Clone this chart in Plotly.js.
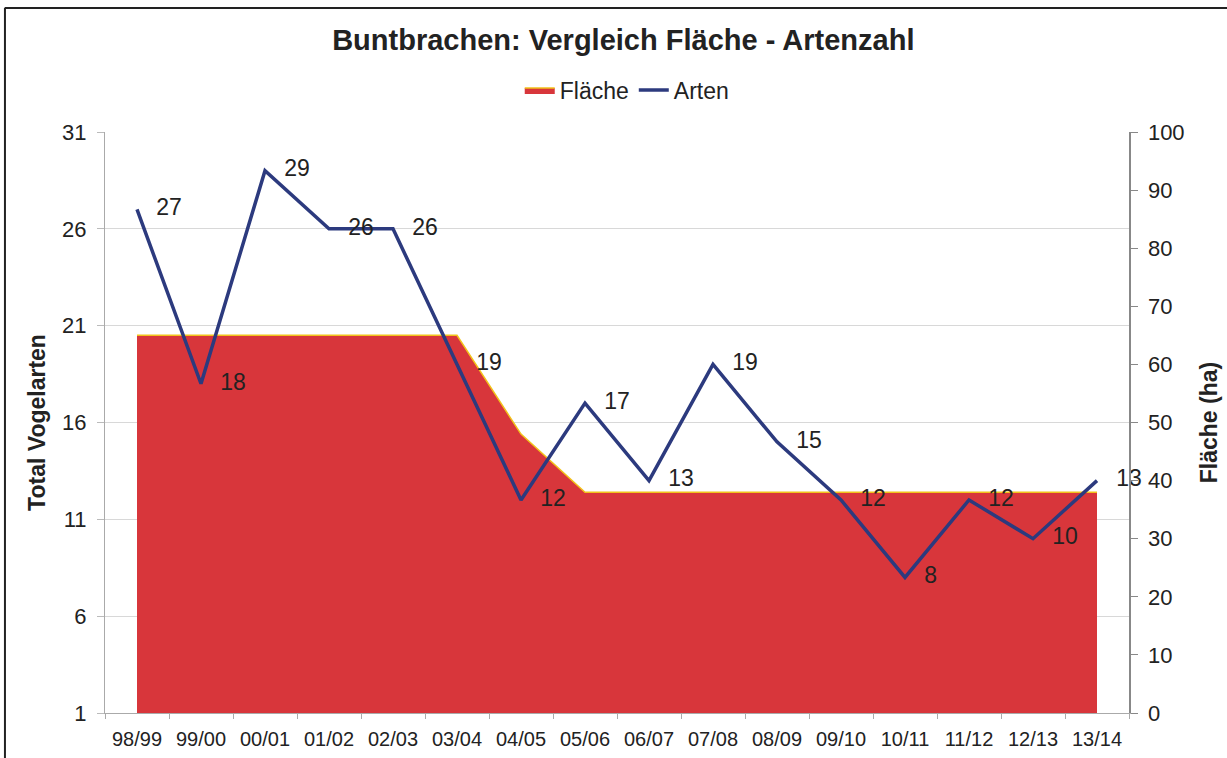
<!DOCTYPE html>
<html>
<head>
<meta charset="utf-8">
<script src="https://cdn.plot.ly/plotly-3.0.1.min.js"></script>
<style>html,body{margin:0;padding:0;background:#fff;}</style>
</head>
<body>
<div id="chart" style="width:1227px;height:758px;"></div>
<script>
const seasons = ["98/99","99/00","00/01","01/02","02/03","03/04","04/05","05/06","06/07","07/08","08/09","09/10","10/11","11/12","12/13","13/14"];
const arten = [27,18,29,26,26,19,12,17,13,19,15,12,8,12,10,13];
const flaeche = [65,65,65,65,65,65,48,38,38,38,38,38,38,38,38,38];

const F = 'Liberation Sans, Arial, sans-serif';

const traces = [
  {
    x: seasons, y: flaeche, yaxis: 'y', name: 'Fläche',
    type: 'scatter', mode: 'lines', fill: 'tozeroy',
    fillcolor: '#d8363b', line: {color: '#f2c21a', width: 1.5},
    hoverinfo: 'y'
  },
  {
    x: seasons, y: arten, yaxis: 'y2', name: 'Arten',
    type: 'scatter', mode: 'lines+text',
    line: {color: '#2c3a7e', width: 3.5},
    text: arten.map(v => '   ' + v), textposition: 'middle right',
    textfont: {family: F, size: 23, color: '#222'},
    cliponaxis: false
  }
];

const layout = {
  width: 1227, height: 758,
  margin: {l: 105, r: 98, t: 132, b: 45},
  paper_bgcolor: '#fff', plot_bgcolor: '#fff',
  font: {family: F, color: '#222'},
  title: {text: '<b>Buntbrachen: Vergleich Fläche - Artenzahl</b>', font: {family: F, size: 29, color: '#222'},
          x: 0.508, xref: 'container', xanchor: 'center', y: 0.947, yref: 'container', yanchor: 'middle'},
  showlegend: true,
  legend: {orientation: 'h', x: 0.51, xanchor: 'center', y: 1.072, yanchor: 'middle',
           font: {family: F, size: 23, color: '#222'}, traceorder: 'normal', itemwidth: 30},
  xaxis: {
    type: 'category', range: [-0.5, 15.5], tickson: 'boundaries',
    ticks: 'outside', ticklen: 5, tickcolor: '#aaa', ticklabelstandoff: 8,
    showline: true, linecolor: '#aaa', linewidth: 1, showgrid: false,
    tickfont: {family: F, size: 20, color: '#222'}
  },
  yaxis2: {
    range: [1, 31], tick0: 1, dtick: 5, overlaying: 'y', side: 'left',
    ticks: 'outside', ticklen: 7, tickcolor: '#bbb', ticklabelstandoff: 6,
    showline: true, linecolor: '#aaa', showgrid: true, gridcolor: '#d8d8d8', zeroline: false,
    tickfont: {family: F, size: 22, color: '#222'},
    title: {text: '<b>Total Vogelarten</b>', font: {family: F, size: 23, color: '#222'}, standoff: 10}
  },
  yaxis: {
    range: [0, 100], dtick: 10, side: 'right',
    ticks: 'outside', ticklen: 7, tickcolor: '#888', ticklabelstandoff: 6,
    showline: true, linecolor: '#888', linewidth: 1.5, showgrid: false, zeroline: false,
    tickfont: {family: F, size: 22, color: '#222'},
    title: {text: '<b>Fläche (ha)</b>', font: {family: F, size: 23, color: '#222'}, standoff: 17}
  },
  shapes: [
    {type: 'line', xref: 'paper', yref: 'paper', x0: -0.098, x1: 1.1, y0: 1.2134, y1: 1.2134, line: {color: '#222', width: 2}},
    {type: 'line', xref: 'paper', yref: 'paper', x0: -0.0977, x1: -0.0977, y0: 1.2134, y1: -0.08, line: {color: '#222', width: 2}}
  ]
};

Plotly.newPlot('chart', traces, layout, {displayModeBar: false, staticPlot: true});
</script>
</body>
</html>
